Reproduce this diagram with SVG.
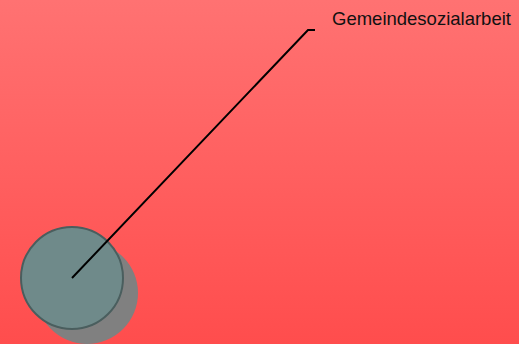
<svg xmlns="http://www.w3.org/2000/svg" width="519" height="344" viewBox="0 0 519 344">
<defs>
<linearGradient id="bg" x1="0" y1="0" x2="0" y2="1">
<stop offset="0" stop-color="#ff7272"/>
<stop offset="1" stop-color="#ff4d4d"/>
</linearGradient>
<style>
.lbl{font-family:"Liberation Sans",Arial,sans-serif;font-size:18.5px;fill:#111}
.conn{fill:none;stroke:#000;stroke-width:2}
</style>
</defs>
<rect width="519" height="344" fill="url(#bg)"/>
<g id="node">
<circle cx="87" cy="293" r="51" fill="#808080"/>
<circle cx="72" cy="278" r="51" fill="#6f8a8a" stroke="#4a5e5e" stroke-width="2"/>
</g>
<g id="connectors">
<polyline class="conn" points="72,278 308,30 315,30"/>
</g>
<g id="label">
<text class="lbl" x="332" y="25">Gemeindesozialarbeit</text>
</g>
</svg>
